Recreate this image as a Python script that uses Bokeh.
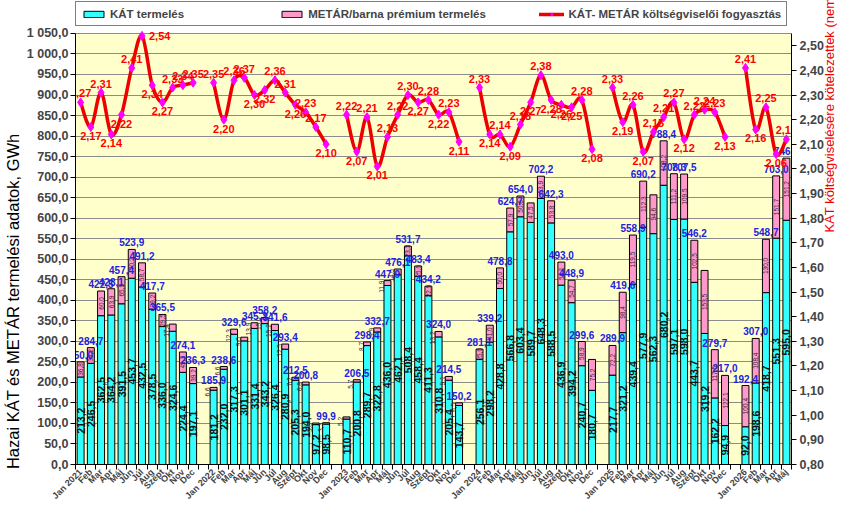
import numpy as np
from bokeh.plotting import figure
from bokeh.models import (ColumnDataSource, Range1d, LinearAxis, FixedTicker,
                          CustomJSTickFormatter, Legend, LegendItem, BoxAnnotation)
from bokeh.core.properties import value
from bokeh.embed import file_html
from bokeh.resources import INLINE

FONT = "Liberation Sans"
NB = "\u00a0"

# havi adatok, 2021 jan - 2026 máj
month_names = ["Jan", "Feb", "Mar", "Apr", "Máj", "Jún", "Júl", "Aug", "Szept", "Okt", "Nov", "Dec"]
years = [2021, 2022, 2023, 2024, 2025, 2026]

# KÁT termelés, GWh
kat = [213.2, 246.5, 362.5, 364.2, 391.5, 453.7, 432.5, 378.5, 336.0, 324.6, 224.4, 197.1,
       181.2, 232.0, 317.3, 301.1, 331.4, 343.2, 326.4, 280.9, 205.3, 194.0, 97.2, 98.5,
       110.7, 200.8, 289.7, 322.8, 436.0, 462.1, 508.4, 458.4, 411.3, 310.8, 205.4, 143.7,
       256.1, 298.2, 428.8, 566.8, 603.4, 589.7, 648.3, 588.5, 436.9, 394.2, 240.7, 180.7,
       217.7, 321.2, 439.4, 577.9, 562.3, 680.2, 597.1, 598.0, 443.7, 319.2, 162.2, 94.9,
       92.0, 198.6, 418.7, 551.3, 595.0]

# METÁR/barna prémium termelés, GWh
metar = [36.8, 38.2, 60.0, 63.9, 65.9, 70.2, 58.7, 39.2, 29.5, 17.4, 49.7, 39.2,
         6.6, 6.6, 12.3, 9.0, 13.9, 15.0, 15.2, 12.5, 7.2, 6.8, 3.8, 3.3,
         5.2, 5.7, 8.7, 9.9, 11.9, 14.0, 23.3, 25.0, 22.9, 13.2, 9.1, 6.5,
         25.0, 41.0, 50.0, 57.9, 50.6, 47.5, 53.9, 53.8, 56.1, 54.7, 58.9, 75.2,
         72.2, 98.4, 119.5, 112.3, 94.6, 108.2, 111.2, 109.5, 102.5, 153.5, 117.5, 122.1,
         100.4, 108.4, 130.0, 151.7, 151.2]

# összesen feliratok (ahol van)
totals = [250.0, 284.7, 422.5, 428.1, 457.4, 523.9, 491.2, 417.7, 365.5, None, 274.1, 236.3,
          185.9, 238.6, 329.6, None, 345.3, 358.2, 341.6, 293.4, 212.5, 200.8, None, 99.9,
          None, 206.5, 298.4, 332.7, 447.9, 476.1, 531.7, 483.4, 434.2, 324.0, 214.5, 150.2,
          281.1, 339.2, 478.8, 624.7, 654.0, None, 702.2, 642.3, 493.0, 448.9, 299.6, None,
          289.9, 419.6, 558.9, 690.2, None, 788.4, 708.3, 707.5, 546.2, None, 279.7, 217.0,
          192.4, 307.0, 548.7, 703.0, 746.2]

# KÁT-METÁR költségviselői fogyasztás, TWh
cost = [2.27, 2.17, 2.31, 2.14, 2.22, 2.41, 2.54, 2.34, 2.27, 2.33, 2.34, 2.35,
        2.35, 2.20, 2.36, 2.37, 2.30, 2.32, 2.36, 2.31, 2.26, 2.23, 2.17, 2.10,
        2.22, 2.07, 2.21, 2.01, 2.13, 2.22, 2.30, 2.27, 2.28, 2.22, 2.23, 2.11,
        2.33, 2.14, 2.14, 2.09, 2.18, 2.27, 2.38, 2.28, 2.26, 2.25, 2.28, 2.08,
        2.33, 2.19, 2.26, 2.07, 2.15, 2.21, 2.27, 2.12, 2.22, 2.24, 2.23, 2.13,
        2.41, 2.16, 2.25, 2.06, 2.12]


def hu(v, d=1):
    return f"{v:.{d}f}".replace(".", ",")


n = len(kat)
slot = [i + i // 12 for i in range(n)]   # egy üres hely az évek között
n_slots = slot[-1] + 1
tick_labels = {}
for i in range(n):
    m = i % 12
    tick_labels[slot[i]] = f"{month_names[m]} {years[i // 12]}" if m == 0 else month_names[m]

top = [k + m for k, m in zip(kat, metar)]

# a rajzterület teteje fölött 33 px hely marad a jelmagyarázatnak
W, H, BOTTOM, HEAD = 847, 507, 42, 33
frame_h = H - BOTTOM
y_max, c_min, c_max = 1050, 0.8, 2.55
y_end = y_max * frame_h / (frame_h - HEAD)
c_end = c_min + (c_max - c_min) * frame_h / (frame_h - HEAD)

p = figure(width=W, height=H, output_backend="svg", toolbar_location=None,
           x_range=Range1d(-0.5, n_slots - 0.5), y_range=Range1d(0, y_end),
           min_border_left=73, min_border_right=48, min_border_top=0, min_border_bottom=BOTTOM)
p.extra_y_ranges = {"cost": Range1d(c_min, c_end)}
p.background_fill_color = "white"
p.border_fill_color = "white"
p.outline_line_color = None
p.xgrid.grid_line_color = None
p.ygrid.grid_line_color = "#8C8C8C"
p.add_layout(BoxAnnotation(bottom=0, top=y_max, fill_color="#FFFFCC", fill_alpha=1,
                           line_color=None, level="image"))

# x tengely
xa = p.xaxis[0]
xa.ticker = FixedTicker(ticks=slot, minor_ticks=[s - 0.5 for s in range(n_slots + 1)])
xa.major_label_overrides = tick_labels
xa.major_label_orientation = np.pi / 4
xa.major_tick_line_color = None
xa.major_tick_out = 5
xa.minor_tick_in = 0
xa.minor_tick_out = 5
xa.minor_tick_line_color = "black"
xa.major_label_standoff = 1
xa.major_label_text_font = FONT
xa.major_label_text_font_style = "bold"
xa.major_label_text_font_size = "9px"
xa.axis_line_color = "black"

# bal tengely
ya = p.yaxis[0]
ya.bounds = (0, y_max)
ya.ticker = FixedTicker(ticks=list(range(0, y_max + 1, 50)))
ya.formatter = CustomJSTickFormatter(code="""
let s = tick.toFixed(1).replace('.', ',');
if (tick >= 1000) { s = s.slice(0, s.length - 5) + ' ' + s.slice(s.length - 5); }
return s;
""")
ya.major_tick_in = 0
ya.major_tick_out = 5
ya.minor_tick_line_color = None
ya.major_label_standoff = 2
ya.major_label_text_font = FONT
ya.major_label_text_font_style = "bold"
ya.major_label_text_font_size = "12.5px"
ya.axis_line_color = "black"
ya.axis_label = "Hazai KÁT és METÁR termelési adatok, GWh" + NB * 30
ya.axis_label_standoff = 2
ya.axis_label_text_font = FONT
ya.axis_label_text_font_style = "normal"
ya.axis_label_text_font_size = "16.5px"
ya.axis_label_text_color = "black"

# jobb tengely
cost_ticks = [round(c_min + 0.1 * k, 2) for k in range(18)]
ra = LinearAxis(y_range_name="cost", ticker=FixedTicker(ticks=cost_ticks), bounds=(c_min, c_max),
                formatter=CustomJSTickFormatter(code="return tick.toFixed(2).replace('.', ',');"))
ra.major_tick_in = 0
ra.major_tick_out = 5
ra.minor_tick_line_color = None
ra.major_label_standoff = 3
ra.major_label_text_font = FONT
ra.major_label_text_font_style = "bold"
ra.major_label_text_font_size = "12.5px"
ra.axis_line_color = "black"
ra.axis_label = "KÁT költségviselésére kötelezettek (nem ESZJ) fogyasztása, TWh" + NB * 10
ra.axis_label_standoff = 3
ra.axis_label_text_font = FONT
ra.axis_label_text_font_style = "normal"
ra.axis_label_text_font_size = "13px"
ra.axis_label_text_color = "#EE0000"
if "axis_label_orientation" in ra.properties():
    ra.axis_label_orientation = np.pi / 2
p.add_layout(ra, "right")

# oszlopok
bars = ColumnDataSource(dict(x=slot, kat=kat, top=top,
                             kat_mid=[k / 2 for k in kat],
                             kat_txt=[hu(k) for k in kat]))
kat_r = p.vbar(x="x", width=0.68, bottom=0, top="kat", source=bars,
               fill_color="#33FFFF", line_color="black", line_width=1)
met_r = p.vbar(x="x", width=0.68, bottom="kat", top="top", source=bars,
               fill_color="#FF99CC", line_color="black", line_width=1)

p.text(x="x", y="kat_mid", text="kat_txt", source=bars, angle=np.pi / 2,
       text_align="center", text_baseline="middle", text_color="#111111",
       text_font=value(FONT), text_font_style="bold", text_font_size="10.5px")

big = [i for i in range(n) if metar[i] >= 20]
small = [i for i in range(n) if metar[i] < 20]
p.text(x=[slot[i] for i in big], y=[kat[i] + metar[i] / 2 for i in big],
       text=[hu(metar[i]) for i in big], angle=np.pi / 2,
       text_align="center", text_baseline="middle", text_color="#3A2030",
       text_font=value(FONT), text_font_size="6.5px")
p.text(x=[slot[i] for i in small], y=[top[i] for i in small],
       text=[hu(metar[i]) for i in small], angle=np.pi / 2, x_offset=-6,
       text_align="right", text_baseline="middle", text_color="#3A2030",
       text_font=value(FONT), text_font_size="6.5px")

tot_i = [i for i in range(n) if totals[i] is not None]
p.text(x=[slot[i] for i in tot_i], y=[top[i] for i in tot_i],
       text=[hu(totals[i]) for i in tot_i], y_offset=-3,
       text_align="center", text_baseline="bottom", text_color="#2222DD",
       text_font=value(FONT), text_font_style="bold", text_font_size="10px")

# simított vonal évenként
x0, y0, x1, y1, cx0, cy0, cx1, cy1 = ([] for _ in range(8))
for yi in range(len(years)):
    idx = [i for i in range(n) if i // 12 == yi]
    xs = [slot[i] for i in idx]
    ys = [cost[i] for i in idx]
    m = len(xs)
    for j in range(m - 1):
        a = max(j - 1, 0)
        d = min(j + 2, m - 1)
        x0.append(xs[j]); y0.append(ys[j]); x1.append(xs[j + 1]); y1.append(ys[j + 1])
        cx0.append(xs[j] + (xs[j + 1] - xs[a]) / 6); cy0.append(ys[j] + (ys[j + 1] - ys[a]) / 6)
        cx1.append(xs[j + 1] - (xs[d] - xs[j]) / 6); cy1.append(ys[j + 1] - (ys[d] - ys[j]) / 6)
curve = p.bezier(x0=x0, y0=y0, x1=x1, y1=y1, cx0=cx0, cy0=cy0, cx1=cx1, cy1=cy1,
                 y_range_name="cost", line_color="#EE0000", line_width=3.5, line_cap="round")
pts = p.scatter(x=slot, y=cost, y_range_name="cost", marker="diamond", size=9,
                fill_color="#FF00FF", line_color="#FF00FF")

above, below, side = [], [], []
for i in range(n):
    same = [j for j in (i - 1, i + 1) if 0 <= j < n and j // 12 == i // 12]
    ref = sum(cost[j] for j in same) / len(same)
    if cost[i] >= 2.5:
        side.append(i)
    else:
        (above if cost[i] >= ref else below).append(i)
for group, base, off in ((above, "bottom", -5), (below, "top", 5)):
    p.text(x=[slot[i] for i in group], y=[cost[i] for i in group],
           text=[hu(cost[i], 2) for i in group], y_range_name="cost", y_offset=off,
           text_align="center", text_baseline=base, text_color="#FF0000",
           text_font=value(FONT), text_font_style="bold", text_font_size="11px")
p.text(x=[slot[i] for i in side], y=[cost[i] for i in side],
       text=[hu(cost[i], 2) for i in side], y_range_name="cost", x_offset=7,
       text_align="left", text_baseline="middle", text_color="#FF0000",
       text_font=value(FONT), text_font_style="bold", text_font_size="11px")

# jelmagyarázat a rajzterület fölötti sávban
legend = Legend(items=[LegendItem(label="KÁT termelés" + NB * 26, renderers=[kat_r]),
                       LegendItem(label="METÁR/barna prémium termelés" + NB * 13, renderers=[met_r]),
                       LegendItem(label="KÁT- METÁR költségviselői fogyasztás",
                                  renderers=[curve, pts])],
                orientation="horizontal", location=(0, frame_h - 27), padding=5, margin=0, spacing=12,
                glyph_width=25, glyph_height=8, label_standoff=4, label_width=0, label_height=13,
                label_text_font=FONT, label_text_font_style="bold", label_text_font_size="11.5px",
                border_line_color="black", border_line_width=1, background_fill_color="white")
p.add_layout(legend)

open("out.html", "w").write(file_html(p, INLINE))
